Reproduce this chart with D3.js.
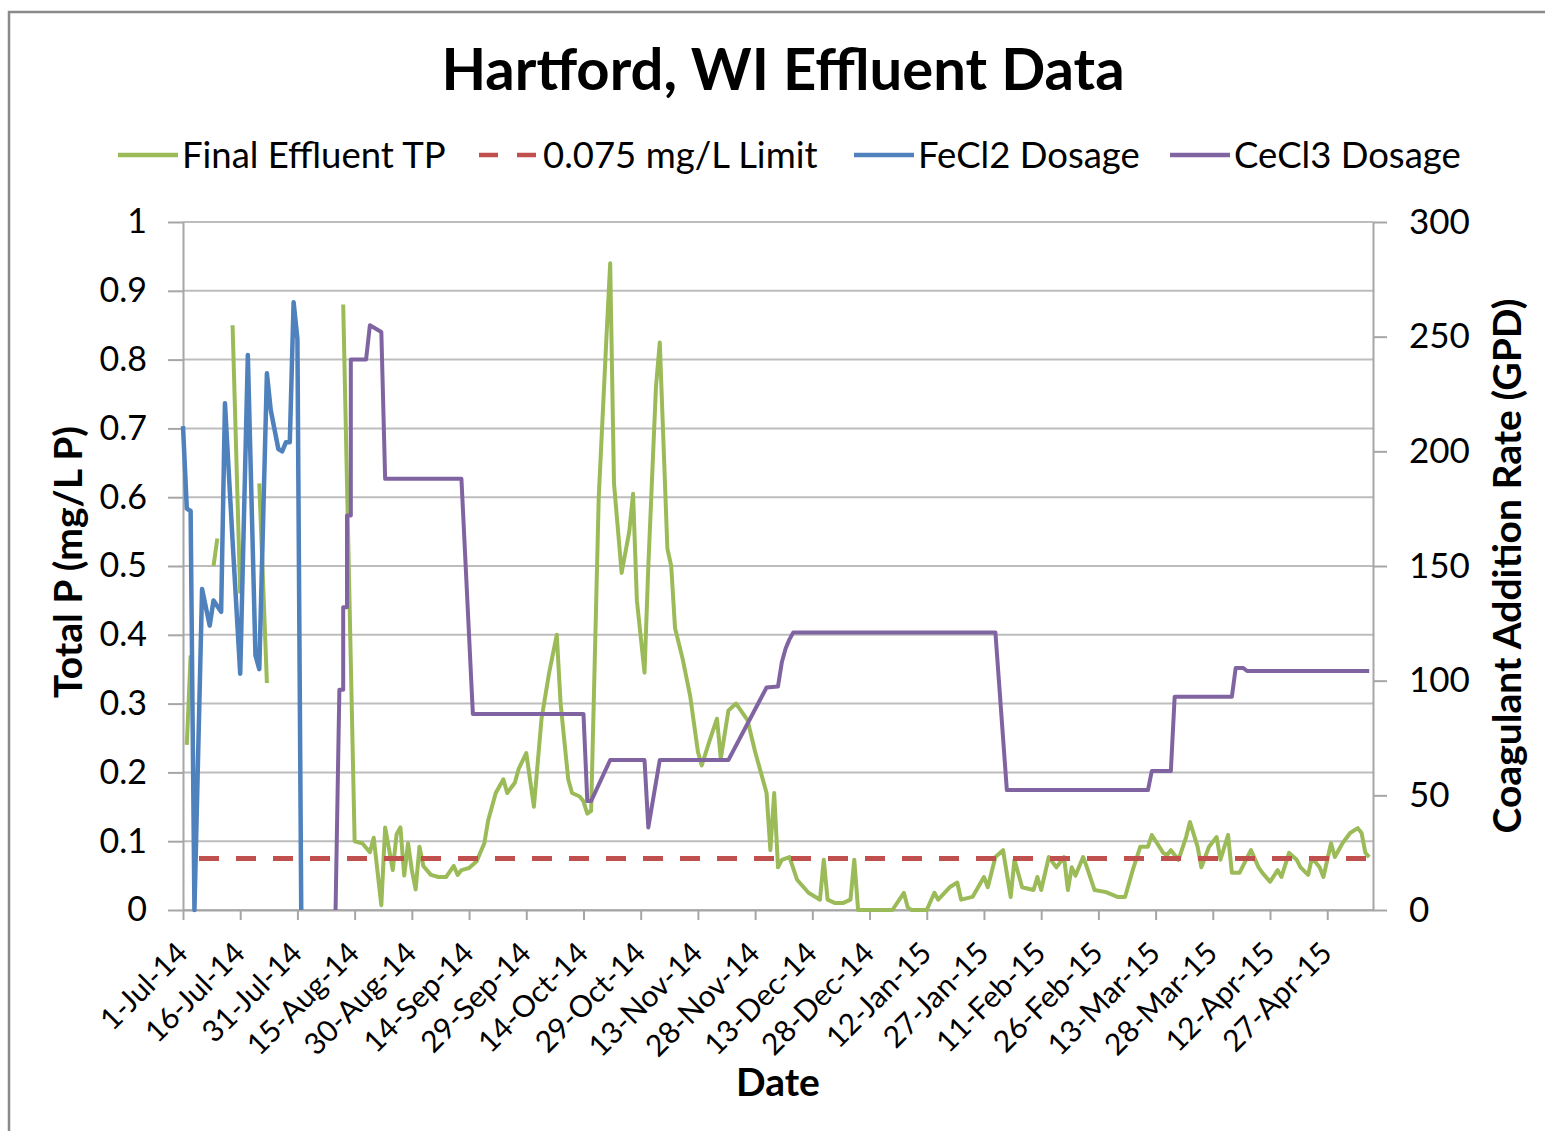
<!DOCTYPE html>
<html>
<head>
<meta charset="utf-8">
<script src="https://cdn.jsdelivr.net/npm/d3@7"></script>
<style>
  body { margin: 0; background: #fff; }
  svg { display: block; }
  text { font-family: Lato, 'Open Sans', sans-serif; fill: #000; }
</style>
</head>
<body>
<svg width="1545" height="1131"></svg>
<script>
// ---- data
const dateTicks = ['2014-07-01', '2014-07-16', '2014-07-31', '2014-08-15', '2014-08-30', '2014-09-14',
    '2014-09-29', '2014-10-14', '2014-10-29', '2014-11-13', '2014-11-28', '2014-12-13', '2014-12-28',
    '2015-01-12', '2015-01-27', '2015-02-11', '2015-02-26', '2015-03-13', '2015-03-28', '2015-04-12', '2015-04-27'];
const tpTicks = [0, 0.1, 0.2, 0.3, 0.4, 0.5, 0.6, 0.7, 0.8, 0.9, 1];
const gpdTicks = [0, 50, 100, 150, 200, 250, 300];

const limitValue = 0.075;
const limitDates = ['2014-07-01', '2015-05-08'];

// Final effluent TP (mg/L), null = no sample
const tpData = [
    ['2014-07-02', 0.24], ['2014-07-03', 0.37], ['2014-07-04', null],
    ['2014-07-09', 0.50], ['2014-07-10', 0.54], ['2014-07-11', null],
    ['2014-07-14', 0.85], ['2014-07-16', 0.46], ['2014-07-17', null],
    ['2014-07-21', 0.62], ['2014-07-23', 0.33], ['2014-07-24', null],
    ['2014-08-12', 0.88], ['2014-08-15', 0.10], ['2014-08-17', 0.097], ['2014-08-19', 0.084], ['2014-08-20', 0.105],
    ['2014-08-22', 0.007], ['2014-08-23', 0.12], ['2014-08-25', 0.058], ['2014-08-26', 0.11], ['2014-08-27', 0.12],
    ['2014-08-28', 0.05], ['2014-08-29', 0.097], ['2014-08-30', 0.058], ['2014-08-31', 0.03], ['2014-09-01', 0.092],
    ['2014-09-02', 0.064], ['2014-09-04', 0.051], ['2014-09-06', 0.048], ['2014-09-08', 0.048], ['2014-09-10', 0.064],
    ['2014-09-11', 0.051], ['2014-09-12', 0.058], ['2014-09-14', 0.061], ['2014-09-16', 0.071], ['2014-09-18', 0.097],
    ['2014-09-19', 0.13], ['2014-09-21', 0.17], ['2014-09-23', 0.19], ['2014-09-24', 0.17], ['2014-09-26', 0.185],
    ['2014-09-27', 0.205], ['2014-09-29', 0.228], ['2014-10-01', 0.15], ['2014-10-03', 0.278], ['2014-10-05', 0.345],
    ['2014-10-07', 0.40], ['2014-10-08', 0.30], ['2014-10-10', 0.19], ['2014-10-11', 0.17], ['2014-10-13', 0.165],
    ['2014-10-14', 0.158], ['2014-10-15', 0.14], ['2014-10-16', 0.144], ['2014-10-18', 0.60], ['2014-10-20', 0.83],
    ['2014-10-21', 0.94], ['2014-10-22', 0.62], ['2014-10-24', 0.49], ['2014-10-26', 0.55], ['2014-10-27', 0.605],
    ['2014-10-28', 0.45], ['2014-10-30', 0.345], ['2014-10-31', 0.50], ['2014-11-02', 0.76], ['2014-11-03', 0.825],
    ['2014-11-05', 0.525], ['2014-11-06', 0.50], ['2014-11-07', 0.41], ['2014-11-09', 0.365], ['2014-11-11', 0.31],
    ['2014-11-13', 0.23], ['2014-11-14', 0.21], ['2014-11-16', 0.245], ['2014-11-18', 0.278], ['2014-11-19', 0.22],
    ['2014-11-21', 0.29], ['2014-11-23', 0.30], ['2014-11-26', 0.276], ['2014-11-28', 0.23], ['2014-12-01', 0.17],
    ['2014-12-02', 0.087], ['2014-12-03', 0.17], ['2014-12-04', 0.062], ['2014-12-05', 0.073], ['2014-12-07', 0.077],
    ['2014-12-09', 0.044], ['2014-12-12', 0.025], ['2014-12-15', 0.015], ['2014-12-16', 0.073], ['2014-12-17', 0.015],
    ['2014-12-19', 0.01], ['2014-12-21', 0.01], ['2014-12-23', 0.015], ['2014-12-24', 0.073], ['2014-12-25', 0],
    ['2014-12-30', 0], ['2015-01-03', 0], ['2015-01-06', 0.025], ['2015-01-07', 0.004], ['2015-01-08', 0],
    ['2015-01-12', 0], ['2015-01-14', 0.025], ['2015-01-15', 0.015], ['2015-01-18', 0.033], ['2015-01-20', 0.04],
    ['2015-01-21', 0.015], ['2015-01-24', 0.019], ['2015-01-27', 0.048], ['2015-01-28', 0.033], ['2015-01-30', 0.077],
    ['2015-02-01', 0.087], ['2015-02-03', 0.019], ['2015-02-04', 0.073], ['2015-02-06', 0.033], ['2015-02-09', 0.029],
    ['2015-02-10', 0.048], ['2015-02-11', 0.029], ['2015-02-13', 0.077], ['2015-02-15', 0.062], ['2015-02-17', 0.077],
    ['2015-02-18', 0.029], ['2015-02-19', 0.062], ['2015-02-20', 0.05], ['2015-02-22', 0.077], ['2015-02-23', 0.062],
    ['2015-02-25', 0.029], ['2015-02-28', 0.026], ['2015-03-03', 0.019], ['2015-03-05', 0.019], ['2015-03-07', 0.058],
    ['2015-03-09', 0.092], ['2015-03-11', 0.092], ['2015-03-12', 0.109], ['2015-03-15', 0.083], ['2015-03-16', 0.08],
    ['2015-03-17', 0.087], ['2015-03-19', 0.073], ['2015-03-21', 0.106], ['2015-03-22', 0.128], ['2015-03-24', 0.092],
    ['2015-03-25', 0.062], ['2015-03-27', 0.092], ['2015-03-29', 0.106], ['2015-03-30', 0.073], ['2015-04-01', 0.109],
    ['2015-04-02', 0.054], ['2015-04-04', 0.054], ['2015-04-06', 0.076], ['2015-04-07', 0.087], ['2015-04-09', 0.062],
    ['2015-04-10', 0.054], ['2015-04-12', 0.041], ['2015-04-14', 0.058], ['2015-04-15', 0.048], ['2015-04-17', 0.083],
    ['2015-04-19', 0.073], ['2015-04-20', 0.062], ['2015-04-22', 0.051], ['2015-04-23', 0.076], ['2015-04-25', 0.062],
    ['2015-04-26', 0.048], ['2015-04-28', 0.097], ['2015-04-29', 0.077], ['2015-05-01', 0.097], ['2015-05-03', 0.112],
    ['2015-05-05', 0.119], ['2015-05-06', 0.112], ['2015-05-07', 0.083], ['2015-05-08', 0.077]
];

// FeCl2 dosage (GPD)
const fecl2Data = [
    ['2014-07-01', 211], ['2014-07-02', 175], ['2014-07-03', 174], ['2014-07-04', 0], ['2014-07-06', 140],
    ['2014-07-08', 124], ['2014-07-09', 135], ['2014-07-11', 130], ['2014-07-12', 221], ['2014-07-14', 161],
    ['2014-07-16', 103], ['2014-07-18', 242], ['2014-07-20', 111], ['2014-07-21', 105], ['2014-07-23', 234],
    ['2014-07-24', 218], ['2014-07-26', 201], ['2014-07-27', 200], ['2014-07-28', 204], ['2014-07-29', 204],
    ['2014-07-30', 265], ['2014-07-31', 249], ['2014-08-01', 0]
];

// CeCl3 dosage (GPD)
const cecl3Data = [
    ['2014-08-10', 0], ['2014-08-11', 96], ['2014-08-12', 96], ['2014-08-12', 132], ['2014-08-13', 132],
    ['2014-08-13', 172], ['2014-08-14', 172], ['2014-08-14', 240], ['2014-08-18', 240], ['2014-08-19', 255],
    ['2014-08-20', 254], ['2014-08-22', 252], ['2014-08-23', 188], ['2014-09-12', 188], ['2014-09-15', 85.5],
    ['2014-10-14', 85.5], ['2014-10-15', 47.5], ['2014-10-16', 47.5], ['2014-10-21', 65.4], ['2014-10-30', 65.4],
    ['2014-10-31', 36], ['2014-11-03', 65.4], ['2014-11-21', 65.4], ['2014-12-01', 97], ['2014-12-04', 97.5],
    ['2014-12-05', 108], ['2014-12-06', 114], ['2014-12-07', 118], ['2014-12-08', 121], ['2015-01-30', 121],
    ['2015-02-02', 52.3], ['2015-03-11', 52.3], ['2015-03-12', 60.6], ['2015-03-17', 60.6], ['2015-03-18', 93],
    ['2015-04-02', 93], ['2015-04-03', 105.5], ['2015-04-05', 105.5], ['2015-04-06', 104.2], ['2015-05-08', 104.2]
];

const legendItems = [
    { label: 'Final Effluent TP', color: '#9bbb59', dash: null, x: 118 },
    { label: '0.075 mg/L Limit', color: '#c0504d', dash: '19,19', x: 479 },
    { label: 'FeCl2 Dosage', color: '#4f81bd', dash: null, x: 854 },
    { label: 'CeCl3 Dosage', color: '#8064a2', dash: null, x: 1170 }
];

// ---- chart
const margens = { left: 183, right: 172, top: 222, bottom: 221 };
const svg = d3.select('svg');
const width = +svg.attr('width');
const height = +svg.attr('height');
const x0 = margens.left, x1 = width - margens.right;
const yTop = margens.top, yBot = height - margens.bottom;

const parse = d3.utcParse('%Y-%m-%d');
const mapX = d3.scaleUtc().domain([parse('2014-07-01'), parse('2015-05-09')]).range([x0, x1]);
const mapTP = d3.scaleLinear().domain([0, 1]).range([yBot, yTop]);
const mapGPD = d3.scaleLinear().domain([0, 300]).range([yBot, yTop]);

svg.append('rect').attr('width', width).attr('height', height).attr('fill', '#fff');
svg.append('rect')
    .attr('x', 9).attr('y', 12).attr('width', width + 10).attr('height', height + 10)
    .attr('fill', 'none').attr('stroke', '#8a8a8a').attr('stroke-width', 2.5);

// gridlines
svg.append('g').attr('class', 'grid')
    .selectAll('line').data(tpTicks).join('line')
    .attr('x1', x0).attr('x2', x1)
    .attr('y1', d => mapTP(d)).attr('y2', d => mapTP(d))
    .attr('stroke', '#bdbdbd').attr('stroke-width', 2);

const axisColor = '#a6a6a6';
const styleAxis = g => {
    g.select('.domain').attr('stroke', axisColor).attr('stroke-width', 2);
    g.selectAll('.tick line').attr('stroke', axisColor).attr('stroke-width', 2);
    g.selectAll('text').attr('font-size', 34).attr('fill', '#000');
};

svg.append('g')
    .attr('transform', `translate(${x0},0)`)
    .call(d3.axisLeft(mapTP).tickValues(tpTicks).tickFormat(d => d).tickSize(15).tickSizeOuter(0).tickPadding(21))
    .call(styleAxis)
    .call(g => g.selectAll('text').attr('font-family', 'Lato'));

svg.append('g')
    .attr('transform', `translate(${x1},0)`)
    .call(d3.axisRight(mapGPD).tickValues(gpdTicks).tickSize(14).tickSizeOuter(0).tickPadding(22))
    .call(styleAxis)
    .call(g => g.selectAll('text').attr('font-family', 'Lato').attr('font-size', 35));

svg.append('g')
    .attr('transform', `translate(0,${yBot})`)
    .call(d3.axisBottom(mapX).tickValues(dateTicks.map(parse)).tickFormat(d3.utcFormat('%-d-%b-%y'))
        .tickSize(10).tickSizeOuter(0))
    .call(styleAxis)
    .call(g => g.selectAll('text')
        .attr('font-family', 'Lato').attr('font-size', 30)
        .attr('text-anchor', 'end')
        .attr('x', 0).attr('y', 0).attr('dy', 0)
        .attr('transform', 'translate(6,45) rotate(-45)'));

// series
const lineTP = d3.line().defined(d => d[1] != null).x(d => mapX(parse(d[0]))).y(d => mapTP(d[1]));
const lineGPD = d3.line().x(d => mapX(parse(d[0]))).y(d => mapGPD(d[1]));

svg.append('path').datum(tpData)
    .attr('d', lineTP).attr('fill', 'none')
    .attr('stroke', '#9bbb59').attr('stroke-width', 4).attr('stroke-linejoin', 'round');

svg.append('path').datum(limitDates.map(d => [d, limitValue]))
    .attr('d', lineTP).attr('fill', 'none')
    .attr('stroke', '#c0504d').attr('stroke-width', 5)
    .attr('stroke-dasharray', '20,17').attr('stroke-dashoffset', 21);

svg.append('path').datum(fecl2Data)
    .attr('d', lineGPD).attr('fill', 'none')
    .attr('stroke', '#4f81bd').attr('stroke-width', 4.5).attr('stroke-linejoin', 'round');

svg.append('path').datum(cecl3Data)
    .attr('d', lineGPD).attr('fill', 'none')
    .attr('stroke', '#8064a2').attr('stroke-width', 4).attr('stroke-linejoin', 'round');

// titles
svg.append('text')
    .attr('x', 783).attr('y', 90).attr('text-anchor', 'middle')
    .attr('font-size', 58).attr('font-weight', 'bold')
    .text('Hartford, WI Effluent Data');

svg.append('text')
    .attr('transform', 'translate(82,562) rotate(-90)').attr('text-anchor', 'middle')
    .attr('font-size', 39).attr('font-weight', 'bold')
    .text('Total P (mg/L P)');

svg.append('text')
    .attr('transform', 'translate(1521,566) rotate(-90)').attr('text-anchor', 'middle')
    .attr('font-size', 39).attr('font-weight', 'bold')
    .text('Coagulant Addition Rate (GPD)');

svg.append('text')
    .attr('x', 778).attr('y', 1096).attr('text-anchor', 'middle')
    .attr('font-size', 39).attr('font-weight', 'bold')
    .text('Date');

// legend
const legend = svg.append('g').selectAll('g').data(legendItems).join('g')
    .attr('transform', d => `translate(${d.x},155)`);
legend.append('line')
    .attr('x1', 0).attr('x2', 60)
    .attr('stroke', d => d.color).attr('stroke-width', 4.5)
    .attr('stroke-dasharray', d => d.dash);
legend.append('text')
    .attr('x', 64).attr('y', 13)
    .attr('font-size', 36.5)
    .text(d => d.label);
</script>
</body>
</html>
